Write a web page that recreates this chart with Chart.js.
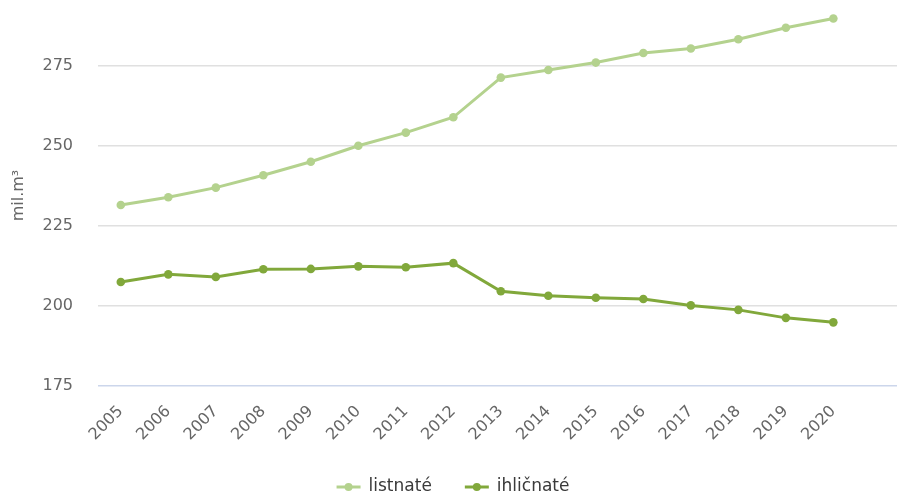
<!DOCTYPE html>
<html>
<head>
<meta charset="utf-8">
<script src="https://cdn.jsdelivr.net/npm/chart.js@4.4.0/dist/chart.umd.min.js"></script>
<style>
  html, body { margin: 0; padding: 0; background: #fff; }
  #wrap { width: 902px; height: 496px; }
</style>
</head>
<body>
<div id="wrap"><canvas id="chart"></canvas></div>
<script>
// Data
const years = [2005, 2006, 2007, 2008, 2009, 2010, 2011, 2012, 2013, 2014, 2015, 2016, 2017, 2018, 2019, 2020];
const listnate = [231.6, 234.0, 237.0, 240.9, 245.1, 250.1, 254.2, 259.0, 271.4, 273.8, 276.1, 279.1, 280.5, 283.4, 287.0, 289.9];
const ihlicnate = [207.5, 209.9, 209.1, 211.5, 211.6, 212.4, 212.1, 213.4, 204.6, 203.2, 202.6, 202.2, 200.2, 198.8, 196.3, 194.9];
const yTicks = [175, 200, 225, 250, 275];

const colorLight = '#b4d28e';
const colorDark = '#81a83b';

function toPoints(values) {
  return years.map((y, i) => ({ x: y, y: values[i] }));
}

// y tick labels, placed from the y scale's own ticks with a fixed gap to the plot
const yLabels = {
  id: 'yLabels',
  afterDraw(chart) {
    const scale = chart.scales.y;
    const ctx = chart.ctx;
    ctx.save();
    ctx.font = '16px "DejaVu Sans"';
    ctx.fillStyle = '#666';
    ctx.textAlign = 'right';
    ctx.textBaseline = 'middle';
    scale.ticks.forEach(t => {
      ctx.fillText(String(t.value), chart.chartArea.left - 25, scale.getPixelForValue(t.value));
    });
    ctx.restore();
  }
};

// bottom legend: line with a dot, then the series name
const lineLegend = {
  id: 'lineLegend',
  afterDraw(chart) {
    const ctx = chart.ctx;
    const font = '17px "DejaVu Sans"';
    const lineW = 24, gapText = 8, gapItem = 33;
    const y = 487;
    ctx.save();
    ctx.font = font;
    const items = chart.data.datasets.map(ds => ({
      ds, w: lineW + gapText + ctx.measureText(ds.label).width
    }));
    const total = items.reduce((s, it) => s + it.w, 0) + gapItem * (items.length - 1);
    let x = chart.width / 2 + 2 - total / 2;
    items.forEach(it => {
      ctx.strokeStyle = it.ds.borderColor;
      ctx.lineWidth = 3;
      ctx.beginPath();
      ctx.moveTo(x, y);
      ctx.lineTo(x + lineW, y);
      ctx.stroke();
      ctx.fillStyle = it.ds.borderColor;
      ctx.beginPath();
      ctx.arc(x + lineW / 2, y, 4, 0, Math.PI * 2);
      ctx.fill();
      ctx.fillStyle = '#3a3a3a';
      ctx.textBaseline = 'middle';
      ctx.textAlign = 'left';
      ctx.fillText(it.ds.label, x + lineW + gapText, y);
      x += it.w + gapItem;
    });
    ctx.restore();
  }
};

const ctx = document.getElementById('chart').getContext('2d');
new Chart(ctx, {
  type: 'line',
  data: {
    datasets: [
      {
        label: 'listnaté',
        data: toPoints(listnate),
        borderColor: colorLight,
        backgroundColor: colorLight,
        borderWidth: 3,
        pointRadius: 4.3,
        pointBorderWidth: 0,
        pointHoverRadius: 5,
        tension: 0
      },
      {
        label: 'ihličnaté',
        data: toPoints(ihlicnate),
        borderColor: colorDark,
        backgroundColor: colorDark,
        borderWidth: 3,
        pointRadius: 4.3,
        pointBorderWidth: 0,
        pointHoverRadius: 5,
        tension: 0
      }
    ]
  },
  options: {
    responsive: true,
    maintainAspectRatio: false,
    animation: false,
    layout: { padding: { top: 0, right: 0, bottom: 52, left: 0 } },
    plugins: {
      tooltip: { enabled: false },
      legend: { display: false }
    },
    scales: {
      x: {
        type: 'linear',
        min: 2004.52,
        max: 2021.34,
        grid: { display: false },
        border: { display: false },
        afterFit: scale => {
          scale.height = 58;
          scale.paddingRight = 0;
        },
        ticks: {
          stepSize: 1,
          includeBounds: false,
          autoSkip: false,
          minRotation: 45,
          maxRotation: 45,
          padding: 8,
          color: '#666',
          font: { family: 'DejaVu Sans', size: 16 },
          callback: v => (years.includes(v) ? String(v) : '')
        }
      },
      y: {
        min: 175,
        max: 294.1,
        border: { display: false },
        afterFit: scale => {
          scale.width = 98;
          scale.paddingTop = 0;
          scale.paddingBottom = 0;
        },
        grid: {
          color: c => (c.tick && c.tick.value === yTicks[0] ? '#ccd6eb' : '#e0e0e0'),
          lineWidth: 1.5,
          drawTicks: false
        },
        afterBuildTicks: axis => {
          axis.ticks = yTicks.map(v => ({ value: v }));
        },
        ticks: { display: false },
        title: {
          display: true,
          text: 'mil.m³',
          color: '#666',
          font: { family: 'DejaVu Sans', size: 16 },
          padding: { top: 9, bottom: 0 }
        }
      }
    }
  },
  plugins: [yLabels, lineLegend]
});
</script>
</body>
</html>
